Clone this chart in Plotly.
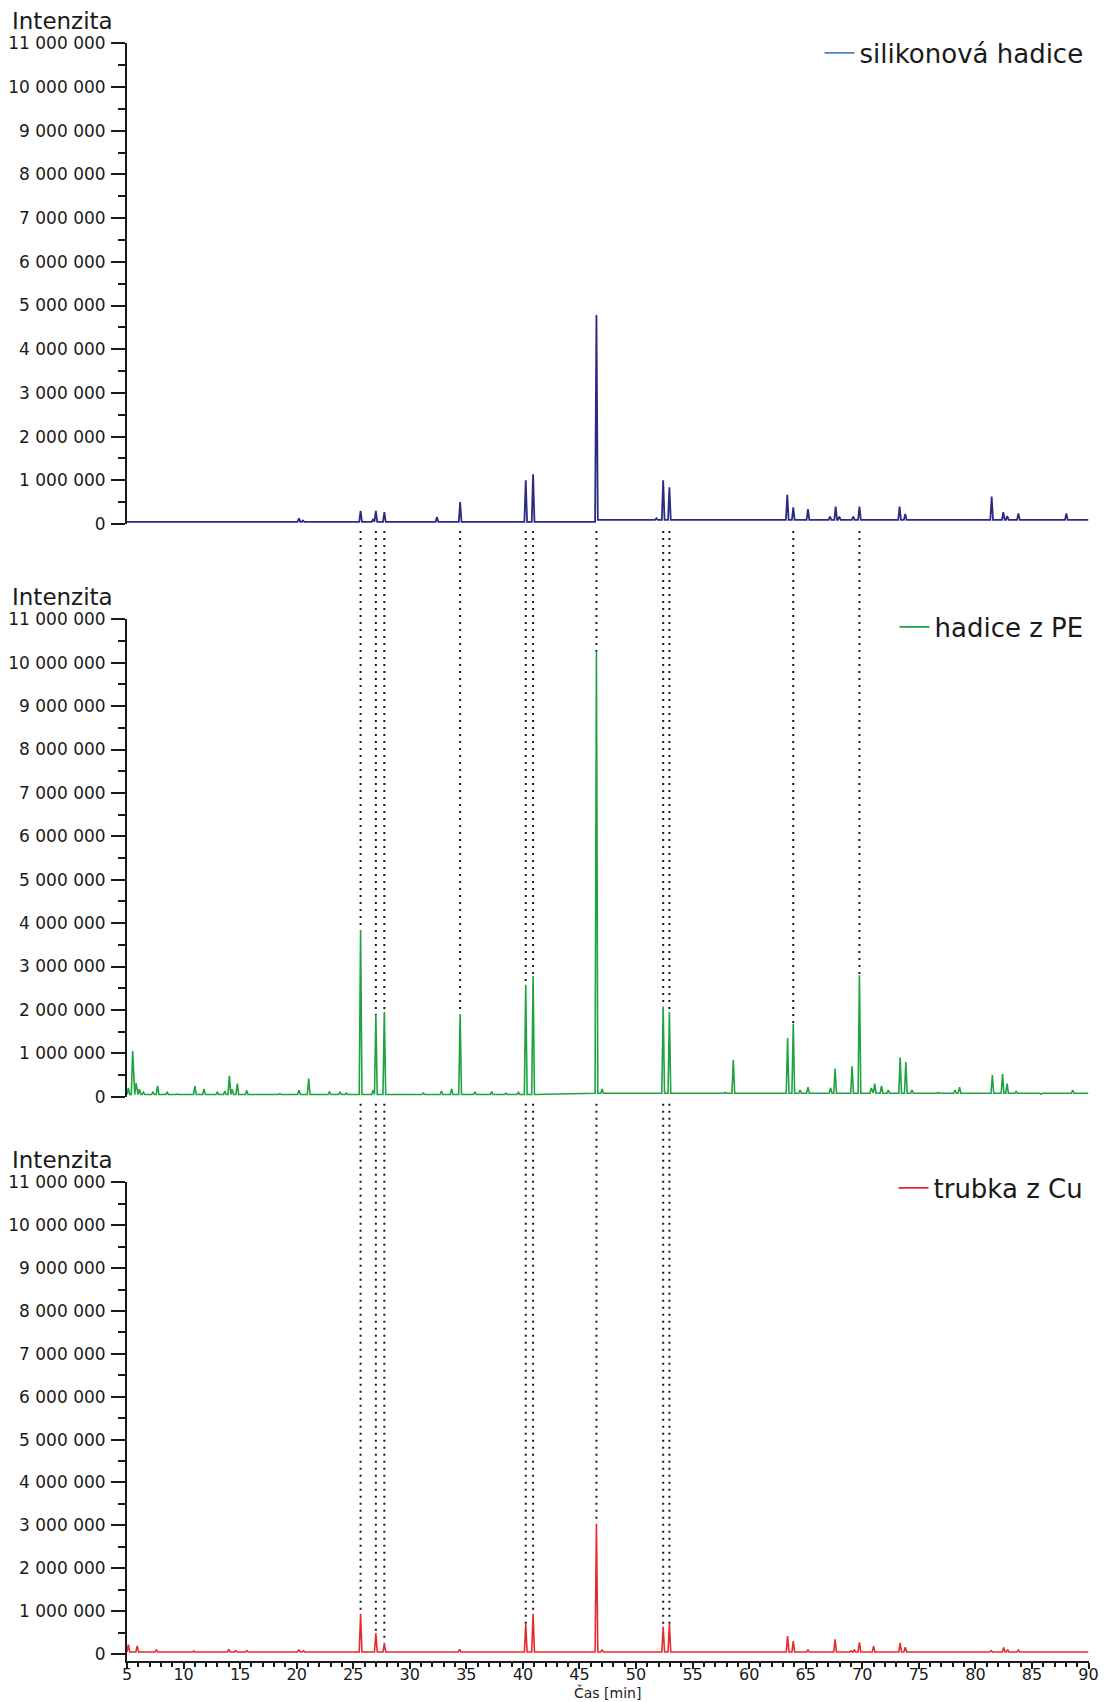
import plotly.graph_objects as go

# ---------------- data ----------------
X_RANGE = [5, 90]
Y_MAX = 11_000_000

# silikonová hadice
si_peak_times = [20.2, 20.55, 25.65, 26.75, 27.0, 27.75, 32.4, 34.45, 40.25, 40.9, 46.5,
                 51.3, 51.8, 52.4, 52.95, 63.37, 63.9, 65.2, 67.15, 67.65, 67.97, 69.2,
                 69.75, 73.3, 73.8, 81.44, 82.47, 82.82, 83.8, 88.04]
si_peak_heights = [130000, 80000, 300000, 100000, 300000, 270000, 160000, 500000, 1000000,
                   1140000, 4780000, 80000, 130000, 1000000, 840000, 670000, 380000, 340000,
                   170000, 400000, 170000, 170000, 400000, 400000, 230000, 630000, 270000,
                   180000, 240000, 240000]
si_base_starts = [5, 46.5]
si_base_levels = [50000, 95000]

# hadice z PE
pe_peak_times = [5.12, 5.5, 5.8, 6.1, 6.45, 7.3, 7.7, 8.55, 9.45, 11.0, 11.8, 12.98, 13.65,
                 14.05, 14.3, 14.75, 15.58, 18.5, 20.2, 21.06, 22.9, 23.83, 24.4, 25.65,
                 26.75, 27.0, 27.75, 31.2, 32.8, 33.7, 34.45, 35.76, 37.24, 38.5, 39.6, 40.25,
                 40.9, 46.5, 47.0, 52.4, 52.95, 57.9, 58.6, 61.5, 63.4, 63.9, 64.5, 65.2,
                 67.2, 67.6, 69.1, 69.75, 70.8, 71.1, 71.7, 72.3, 73.35, 73.85, 74.4, 76.7,
                 78.2, 78.6, 81.5, 82.4, 82.8, 83.6, 85.8, 88.6]
pe_peak_heights = [200000, 1050000, 310000, 170000, 100000, 110000, 250000, 100000, 60000,
                   250000, 180000, 100000, 130000, 480000, 170000, 300000, 140000, 70000,
                   150000, 420000, 120000, 100000, 80000, 3830000, 150000, 1880000, 1950000,
                   80000, 130000, 180000, 1900000, 100000, 120000, 80000, 100000, 2580000,
                   2780000, 10250000, 180000, 2080000, 1950000, 100000, 850000, 80000,
                   1350000, 1680000, 150000, 220000, 200000, 650000, 700000, 2800000, 200000,
                   300000, 250000, 150000, 900000, 800000, 150000, 100000, 150000, 220000,
                   500000, 520000, 300000, 120000, 60000, 150000]
pe_base_starts = [5, 45]
pe_base_levels = [50000, 80000]

# trubka z Cu
cu_peak_times = [5.12, 5.9, 7.6, 10.9, 14.0, 14.6, 15.6, 20.2, 20.6, 25.65, 27.0, 27.75,
                 34.4, 40.25, 40.9, 43.6, 46.5, 47.0, 52.4, 52.95, 58.5, 63.4, 63.9, 65.2,
                 67.6, 69.0, 69.3, 69.75, 71.0, 73.35, 73.8, 81.4, 82.5, 82.85, 83.8]
cu_peak_heights = [220000, 190000, 100000, 70000, 110000, 80000, 80000, 100000, 80000,
                   940000, 480000, 250000, 110000, 700000, 940000, 60000, 3040000, 90000,
                   640000, 700000, 60000, 420000, 300000, 100000, 340000, 70000, 100000,
                   270000, 180000, 260000, 160000, 80000, 150000, 100000, 90000]
cu_base_starts = [5]
cu_base_levels = [45000]

# retention times joined by dotted lines; whether the line continues to the Cu panel
link_times = [25.65, 27.0, 27.75, 34.45, 40.25, 40.9, 46.5, 52.4, 52.95, 63.9, 69.75]
link_to_cu = [True, True, True, False, True, True, True, True, True, False, False]

series_names = ["silikonová hadice", "hadice z PE", "trubka z Cu"]
series_colors = ["#2b2a85", "#1ea33f", "#e62a2c"]
legend_colors = ["#4f82c6", "#1ea33f", "#e62a2c"]
y_tick_vals = list(range(0, 11_000_001, 1_000_000))
x_tick_vals = list(range(5, 91, 5))

# ---------------- layout constants (pixels in the 1108x1702 page) ----------------
W, H = 1108, 1702
X_LEFT, X_RIGHT = 127.0, 1088.5
PANELS = [  # (pixel of value 0, pixel of 11M, pixel of axis bottom)
    (524.0, 43.3, 524.0),
    (1096.7, 619.3, 1096.7),
    (1654.0, 1182.3, 1660.7),
]


def py(p):
    return 1 - p / H


def base_at(t, starts, levels):
    lvl = levels[0]
    for s, l in zip(starts, levels):
        if t >= s:
            lvl = l
    return lvl


def build(times, heights, starts, levels, hw=0.12):
    xs = [X_RANGE[0]]
    ys = [base_at(X_RANGE[0], starts, levels)]
    for t, h in sorted(zip(times, heights)):
        xs += [t - hw, t, t + hw]
        ys += [base_at(t - hw, starts, levels), h, base_at(t + hw, starts, levels)]
    xs.append(X_RANGE[1])
    ys.append(base_at(X_RANGE[1], starts, levels))
    return xs, ys


def apex(t, times, heights):
    best = min(range(len(times)), key=lambda i: abs(times[i] - t))
    return heights[best]


data = [
    (si_peak_times, si_peak_heights, si_base_starts, si_base_levels),
    (pe_peak_times, pe_peak_heights, pe_base_starts, pe_base_levels),
    (cu_peak_times, cu_peak_heights, cu_base_starts, cu_base_levels),
]

fig = go.Figure()
domains, ranges = [], []
for i, (p0, p11, pbot) in enumerate(PANELS):
    per_unit = (p0 - p11) / Y_MAX
    rmin = -(pbot - p0) / per_unit
    domains.append([py(pbot), py(p11)])
    ranges.append([rmin, Y_MAX])

for i, (pt, ph, bs, bl) in enumerate(data):
    xs, ys = build(pt, ph, bs, bl)
    ax = "" if i == 0 else str(i + 1)
    lg = "legend" if i == 0 else f"legend{i + 1}"
    fig.add_trace(go.Scatter(x=xs, y=ys, mode="lines", name=series_names[i],
                             line=dict(color=series_colors[i], width=1.8 if i == 0 else 1.6),
                             xaxis="x" + ax, yaxis="y" + ax, showlegend=False,
                             hoverinfo="skip"))
    fig.add_trace(go.Scatter(x=[None], y=[None], mode="lines", name=series_names[i],
                             line=dict(color=legend_colors[i], width=1.8),
                             xaxis="x" + ax, yaxis="y" + ax, legend=lg, showlegend=True))


def to_paper(v, k):
    d0, d1 = domains[k]
    r0, r1 = ranges[k]
    return d0 + (v - r0) / (r1 - r0) * (d1 - d0)


GAP = 7 / H
shapes = []
dot = dict(color="#1a1a1a", width=2, dash="2px,5px")
for t, cu in zip(link_times, link_to_cu):
    shapes.append(dict(type="line", xref="x3", yref="paper", x0=t, x1=t,
                       y0=to_paper(0, 0) - GAP,
                       y1=to_paper(apex(t, pe_peak_times, pe_peak_heights), 1),
                       line=dot, layer="below"))
    if cu:
        shapes.append(dict(type="line", xref="x3", yref="paper", x0=t, x1=t,
                           y0=to_paper(0, 1) - GAP,
                           y1=to_paper(apex(t, cu_peak_times, cu_peak_heights), 2),
                           line=dot, layer="below"))

axis_color = "#1a1a1a"
tick_font = dict(family="DejaVu Sans", size=17, color=axis_color)
xtick_font = dict(family="DejaVu Sans", size=16, color=axis_color)
x_dom = [X_LEFT / W, X_RIGHT / W]

layout = dict(
    width=W, height=H, margin=dict(l=0, r=0, t=0, b=0),
    paper_bgcolor="white", plot_bgcolor="white", separators=". ",
    font=dict(family="DejaVu Sans", color=axis_color),
    shapes=shapes, showlegend=True,
)
for i in range(3):
    ax = "" if i == 0 else str(i + 1)
    last = i == 2
    layout["xaxis" + ax] = dict(
        domain=x_dom, range=X_RANGE, anchor="y" + ax, showgrid=False, zeroline=False,
        visible=last, showline=last, linecolor=axis_color, linewidth=2,
        ticks="outside" if last else "", ticklen=6, tickwidth=2, tickcolor=axis_color,
        tickvals=x_tick_vals, tickfont=xtick_font, showticklabels=last,
        ticklabelstandoff=-8,
        minor=dict(dtick=1, ticks="outside", ticklen=4, tickwidth=1.5, tickcolor=axis_color),
        automargin=False,
    )
    layout["yaxis" + ax] = dict(
        domain=domains[i], range=ranges[i], anchor="x" + ax, showgrid=False, zeroline=False,
        showline=True, linecolor=axis_color, linewidth=2, ticks="outside", ticklen=14,
        tickwidth=2, tickcolor=axis_color, tickvals=y_tick_vals, tickformat=",d",
        tickfont=tick_font, ticklabelstandoff=2,
        minor=dict(tickvals=[v + 500000 for v in y_tick_vals[:-1]], ticks="outside",
                   ticklen=7, tickwidth=2, tickcolor=axis_color),
        automargin=False,
    )

legend_y = [53, 627, 1188]
for i in range(3):
    key = "legend" if i == 0 else f"legend{i + 1}"
    layout[key] = dict(x=X_RIGHT / W, xanchor="right", y=py(legend_y[i]), yanchor="middle",
                       bgcolor="rgba(0,0,0,0)", borderwidth=0,
                       font=dict(family="DejaVu Sans", size=26, color=axis_color))

annotations = []
for i, (p0, p11, pbot) in enumerate(PANELS):
    annotations.append(dict(text="Intenzita", xref="paper", yref="paper", x=10 / W,
                            y=py(p11 - 22), xanchor="left", yanchor="middle",
                            showarrow=False, font=dict(family="DejaVu Sans", size=23,
                                                       color=axis_color)))
annotations.append(dict(text="Čas [min]", xref="paper", yref="paper",
                        x=(X_LEFT + X_RIGHT) / 2 / W, y=py(1703), xanchor="center",
                        yanchor="bottom", showarrow=False,
                        font=dict(family="DejaVu Sans", size=14, color=axis_color)))
layout["annotations"] = annotations

fig.update_layout(**layout)
fig.write_html("out.html", config={"displayModeBar": False},
               post_script="document.body.style.margin='0px';"
                           "document.body.style.overflow='hidden';")
